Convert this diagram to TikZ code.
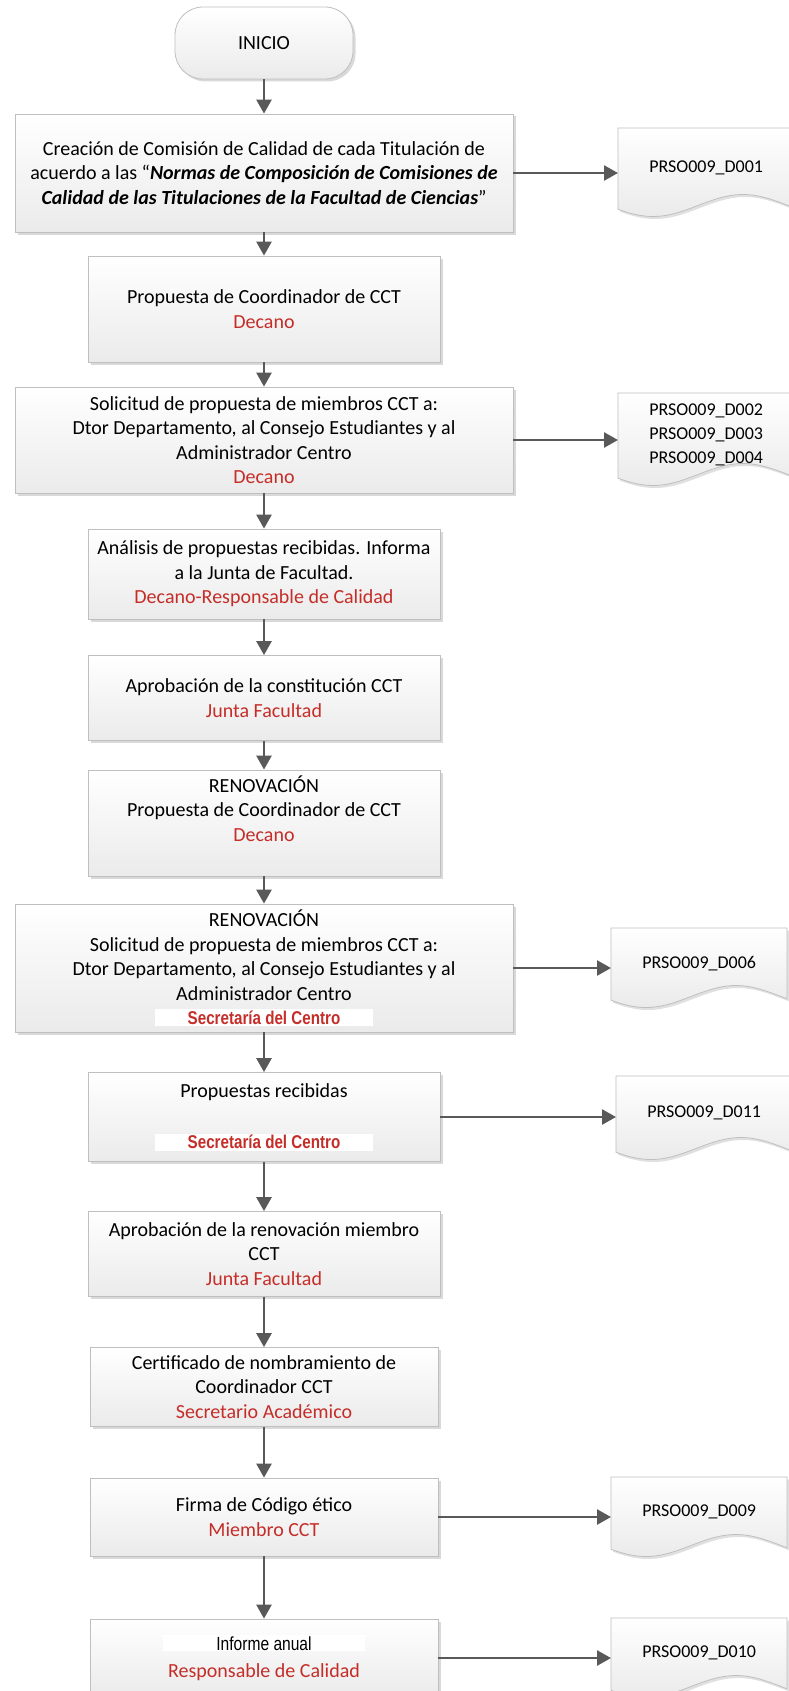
\documentclass[tikz,border=0pt]{standalone}
\usepackage{fontspec}
\setmainfont{Carlito}
\newfontfamily\narrowfont[FakeStretch=0.82]{Liberation Sans}
\usepackage{tikz}
\usetikzlibrary{arrows.meta, positioning, shadows, backgrounds}

\definecolor{respred}{RGB}{197,45,40}
\definecolor{flowgray}{RGB}{89,89,89}
\definecolor{edgegray}{RGB}{191,191,191}

\newcommand{\resp}[1]{\textcolor{respred}{#1}}
\newcommand{\secretaria}{{\setlength{\fboxsep}{1.5pt}\colorbox{white}{\makebox[215pt]{\fontsize{18.5}{22}\narrowfont\bfseries\textcolor{respred}{Secretaría del Centro}}}}}
\newcommand{\docshape}[2]{%
  \path[docline, shift={(#1.north west)}] (0,0) -- (176,0) -- (176,{#2-1.5+11*cos(2*(176-35))})
    -- plot[domain=176:0, samples=45] (\x,{#2-1.5+11*cos(2*(\x-35))}) -- cycle;}

\tikzset{
  procbox/.style={draw=edgegray, line width=0.8pt, top color=white, bottom color=black!8,
    drop shadow={shadow xshift=2.5pt, shadow yshift=-2.5pt, opacity=0.25, fill=black!60},
    align=center, inner sep=0pt, font=\fontsize{20}{24.5}\selectfont},
  widebox/.style={procbox, minimum width=498pt},
  narrowbox/.style={procbox, minimum width=352pt},
  startbox/.style={procbox, rounded corners=28pt, minimum width=178pt, minimum height=72pt},
  docbox/.style={anchor=north west, minimum width=176pt, inner sep=0pt, align=center,
    font=\fontsize{18}{24}\selectfont},
  docline/.style={draw=edgegray, line width=0.8pt, top color=white, bottom color=black!8,
    drop shadow={shadow xshift=2pt, shadow yshift=-2.5pt, opacity=0.2, fill=black!60}},
  flow/.style={draw=flowgray, line width=2.6pt, -{Triangle[length=14pt, width=15pt]}}
}

\begin{document}
\begin{tikzpicture}[x=1pt, y=-1pt]

\useasboundingbox (0,0) rectangle (789,1691);

\node[startbox] (start) at (264,43) {INICIO};

\node[widebox, minimum height=118pt] (b1) at (264,173)
{Creación de Comisión de Calidad de cada Titulación de\\
acuerdo a las “\textbf{\textit{Normas de Composición de Comisiones de}}\\
\textbf{\textit{Calidad de las Titulaciones de la Facultad de Ciencias}}”};

\node[narrowbox, minimum height=106pt] (b2) at (264,309)
{Propuesta de Coordinador de CCT\\ \resp{Decano}};

\node[widebox, minimum height=106pt] (b3) at (264,440)
{Solicitud de propuesta de miembros CCT a:\\
Dtor Departamento, al Consejo Estudiantes y al\\
Administrador Centro\\ \resp{Decano}};

\node[narrowbox, minimum height=90pt] (b4) at (264,574)
{Análisis de propuestas recibidas. Informa\\
a la Junta de Facultad.\\ \resp{Decano-Responsable de Calidad}};

\node[narrowbox, minimum height=85pt] (b5) at (264,698)
{Aprobación de la constitución CCT\\ \resp{Junta Facultad}};

\node[narrowbox, minimum height=106pt, text depth=29pt] (b6) at (264,823)
{RENOVACIÓN\\ Propuesta de Coordinador de CCT\\ \resp{Decano}};

\node[widebox, minimum height=128pt] (b7) at (264,968)
{RENOVACIÓN\\ Solicitud de propuesta de miembros CCT a:\\
Dtor Departamento, al Consejo Estudiantes y al\\
Administrador Centro\\ \secretaria};

\node[narrowbox, minimum height=89pt] (b8) at (264,1117)
{Propuestas recibidas\\[27pt] \secretaria};

\node[narrowbox, minimum height=85pt] (b9) at (264,1254)
{Aprobación de la renovación miembro\\ CCT\\ \resp{Junta Facultad}};

\node[narrowbox, minimum width=348pt, minimum height=79pt] (b10) at (264,1387)
{Certificado de nombramiento de\\ Coordinador CCT\\ \resp{Secretario Académico}};

\node[narrowbox, minimum width=348pt, minimum height=78pt] (b11) at (264,1517)
{Firma de Código ético\\ \resp{Miembro CCT}};

\node[narrowbox, minimum width=348pt, minimum height=78pt] (b12) at (264,1658)
{{\setlength{\fboxsep}{1pt}\colorbox{white}{\makebox[200pt]{\fontsize{19}{22}\narrowfont Informe anual}}}\\[3pt]
\resp{Responsable de Calidad}};

% documentos
\node[docbox, minimum height=79pt] (d1) at (618,128) {PRSO009\_D001};
\node[docbox, minimum height=83pt] (d2) at (618,393) {PRSO009\_D002\\ PRSO009\_D003\\ PRSO009\_D004};
\node[docbox, minimum height=70pt] (d3) at (611,928) {PRSO009\_D006};
\node[docbox, minimum height=74pt] (d4) at (616,1076) {PRSO009\_D011};
\node[docbox, minimum height=70pt] (d5) at (611,1477) {PRSO009\_D009};
\node[docbox, minimum height=70pt] (d6) at (611,1618) {PRSO009\_D010};

\begin{scope}[on background layer]
\docshape{d1}{79}
\docshape{d2}{83}
\docshape{d3}{70}
\docshape{d4}{74}
\docshape{d5}{70}
\docshape{d6}{70}
\end{scope}

% flujo
\draw[flow] (start) -- (b1);
\draw[flow] (b1) -- (b2);
\draw[flow] (b2) -- (b3);
\draw[flow] (b3) -- (b4);
\draw[flow] (b4) -- (b5);
\draw[flow] (b5) -- (b6);
\draw[flow] (b6) -- (b7);
\draw[flow] (b7) -- (b8);
\draw[flow] (b8) -- (b9);
\draw[flow] (b9) -- (b10);
\draw[flow] (b10) -- (b11);
\draw[flow] (b11) -- (b12);

\draw[flow] (b1.east) -- (b1.east -| d1.west);
\draw[flow] (b3.east) -- (b3.east -| d2.west);
\draw[flow] (b7.east) -- (b7.east -| d3.west);
\draw[flow] (b8.east) -- (b8.east -| d4.west);
\draw[flow] (b11.east) -- (b11.east -| d5.west);
\draw[flow] (b12.east) -- (b12.east -| d6.west);

\end{tikzpicture}
\end{document}
